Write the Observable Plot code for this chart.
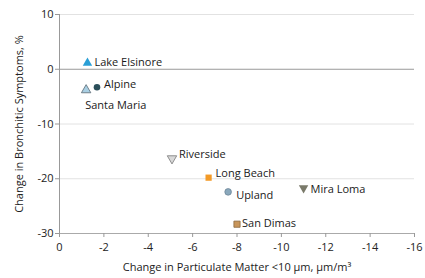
<!DOCTYPE html>
<html><head><meta charset="utf-8">
<script src="https://cdn.jsdelivr.net/npm/d3@7"></script>
<script src="https://cdn.jsdelivr.net/npm/@observablehq/plot@0.6"></script>
<style>body{margin:0;background:#fff;font-family:"Open Sans",sans-serif}</style>
</head><body><div id="chart"></div>
<script>
const sites = ["Lake Elsinore","Alpine","Santa Maria","Riverside","Long Beach","Upland","Mira Loma","San Dimas"];
const pmChange = [-1.26,-1.69,-1.2,-5.07,-6.72,-7.6,-11.0,-8.0];
const bronchChange = [1.15,-3.3,-3.8,-16.3,-19.8,-22.4,-21.7,-28.3];
const shapes = ["triangle","circle","triangle","triangle-down","square","circle","triangle-down","square"];
const fills = ["#2a9fd6","#2b4f5a","#a9cfe3","#d8d8d8","#f39a27","#8aa8bc","#7a7a6a","#c8955a"];
const strokes = ["none","none","#5a6a74","#777","none","#6f8798","none","#8a6a40"];
const xTicks = [0,-2,-4,-6,-8,-10,-12,-14,-16];
const yTicks = [10,0,-10,-20,-30];
const xLabel = "Change in Particulate Matter <10 μm, μm/m³";
const yLabel = "Change in Bronchitic Symptoms, %";

const data = sites.map((s,i) => ({site:s, x:pmChange[i], y:bronchChange[i], shape:shapes[i], fill:fills[i], stroke:strokes[i]}));

// label placement (layout only)
const place = {
  "Lake Elsinore": {dx:7, dy:0},
  "Alpine": {dx:7, dy:-3},
  "Santa Maria": {dx:-1, dy:15},
  "Riverside": {dx:7, dy:-4},
  "Long Beach": {dx:7, dy:-4},
  "Upland": {dx:8, dy:4},
  "Mira Loma": {dx:7, dy:1},
  "San Dimas": {dx:5, dy:-1}
};

const symbolMarks = [];
for (const sh of ["triangle","circle","square","triangle-down"]) {
  const subset = data.filter(d => d.shape === sh);
  const base = {x:"x", y:"y", fill:"fill", stroke:"stroke", strokeWidth:0.8};
  if (sh === "triangle") symbolMarks.push(Plot.dot(subset, {...base, symbol:"triangle", r:3.5}));
  if (sh === "triangle-down") symbolMarks.push(Plot.dot(subset, {...base, symbol:"triangle", r:3.5, rotate:180}));
  if (sh === "circle") symbolMarks.push(Plot.dot(subset, {...base, symbol:"circle", r:3.3}));
  if (sh === "square") symbolMarks.push(Plot.dot(subset, {...base, symbol:"square", r:3.5}));
}
const labelMarks = data.map(d => Plot.text([d], {x:"x", y:"y", text:"site", dx:place[d.site].dx, dy:place[d.site].dy, textAnchor:"start", fill:"#1a1a1a", fontSize:11}));

const plot = Plot.plot({
  width:425, height:278,
  marginLeft:59, marginRight:11, marginTop:14, marginBottom:45,
  style:{fontFamily:"'Open Sans', sans-serif", fontSize:"11px", color:"#222", background:"#fff", overflow:"visible"},
  x:{domain:[0,-16]},
  y:{domain:[-30,10]},
  marks:[
    Plot.ruleY(yTicks.filter(d => d !== 0 && d !== -30), {stroke:"#e2e2e2"}),
    Plot.ruleY([0], {stroke:"#999"}),
    Plot.ruleY([-30], {stroke:"#aaa"}),
    Plot.ruleX([0], {stroke:"#999"}),
    Plot.axisY({ticks:yTicks, tickSize:4, tickPadding:2, stroke:"#999", fill:"#222", tickFormat:d => String(d), label:yLabel, labelAnchor:"center", labelArrow:"none", labelOffset:44}),
    Plot.axisX({ticks:xTicks, tickSize:4, tickPadding:6, stroke:"#999", fill:"#222", tickFormat:d => String(d), label:xLabel, labelAnchor:"center", labelArrow:"none", labelOffset:37}),
    ...symbolMarks,
    ...labelMarks
  ]
});
document.getElementById("chart").appendChild(plot);
</script>
</body></html>
